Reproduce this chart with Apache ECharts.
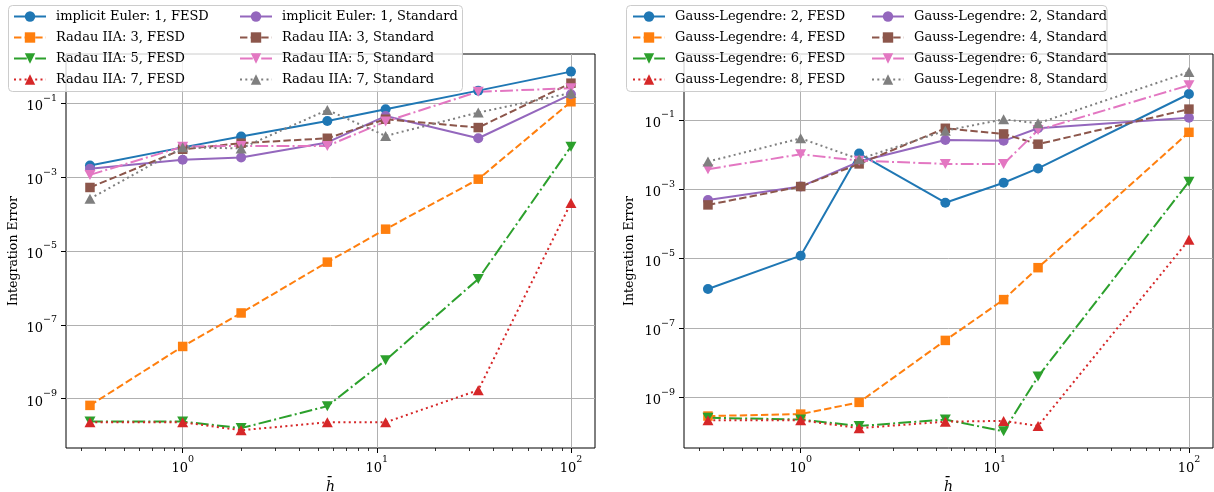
<!DOCTYPE html>
<html><head><meta charset="utf-8">
<script src="https://cdn.jsdelivr.net/npm/echarts@6/dist/echarts.min.js"></script>
<style>html,body{margin:0;padding:0;background:#fff}#c{width:1214px;height:492px}</style>
</head><body><div id="c"></div>
<script>
// ---------- data ----------
const xLeft  = [0.333, 1, 2, 5.56, 11.1, 33.3, 100];
const xRight = [0.333, 1, 2, 5.56, 11.1, 16.7, 100];

const leftNames = [
  'implicit Euler: 1, FESD', 'Radau IIA: 3, FESD', 'Radau IIA: 5, FESD', 'Radau IIA: 7, FESD',
  'implicit Euler: 1, Standard', 'Radau IIA: 3, Standard', 'Radau IIA: 5, Standard', 'Radau IIA: 7, Standard'
];
const rightNames = [
  'Gauss-Legendre: 2, FESD', 'Gauss-Legendre: 4, FESD', 'Gauss-Legendre: 6, FESD', 'Gauss-Legendre: 8, FESD',
  'Gauss-Legendre: 2, Standard', 'Gauss-Legendre: 4, Standard', 'Gauss-Legendre: 6, Standard', 'Gauss-Legendre: 8, Standard'
];

const ie1Fesd = [2.07e-3, 6.4e-3, 1.26e-2, 3.3e-2, 6.9e-2, 0.22, 0.72];
const r3Fesd  = [6.6e-10, 2.6e-8, 2.1e-7, 5.0e-6, 3.9e-5, 8.8e-4, 0.11];
const r5Fesd  = [2.4e-10, 2.4e-10, 1.6e-10, 6.3e-10, 1.1e-8, 1.75e-6, 6.7e-3];
const r7Fesd  = [2.3e-10, 2.3e-10, 1.4e-10, 2.3e-10, 2.3e-10, 1.7e-9, 2.0e-4];
const ie1Std  = [1.68e-3, 2.95e-3, 3.4e-3, 8.7e-3, 4.5e-2, 1.13e-2, 0.175];
const r3Std   = [5.25e-4, 5.7e-3, 8.3e-3, 1.13e-2, 3.7e-2, 2.2e-2, 0.35];
const r5Std   = [1.15e-3, 6.7e-3, 7.0e-3, 7.0e-3, 3.2e-2, 0.206, 0.255];
const r7Std   = [2.6e-4, 6.4e-3, 6.0e-3, 6.6e-2, 1.31e-2, 5.6e-2, 0.19];

const gl2Fesd = [1.33e-6, 1.22e-5, 1.07e-2, 4.1e-4, 1.55e-3, 4.0e-3, 0.56];
const gl4Fesd = [2.9e-10, 3.3e-10, 7.2e-10, 4.4e-8, 6.6e-7, 5.5e-6, 4.4e-2];
const gl6Fesd = [2.6e-10, 2.3e-10, 1.5e-10, 2.3e-10, 1.05e-10, 4.0e-9, 1.66e-3];
const gl8Fesd = [2.2e-10, 2.2e-10, 1.3e-10, 2.0e-10, 2.1e-10, 1.5e-10, 3.5e-5];
const gl2Std  = [4.9e-4, 1.2e-3, 6.3e-3, 2.65e-2, 2.5e-2, 5.75e-2, 0.115];
const gl4Std  = [3.55e-4, 1.2e-3, 5.4e-3, 5.75e-2, 3.95e-2, 2.0e-2, 0.205];
const gl6Std  = [3.8e-3, 1.02e-2, 6.7e-3, 5.4e-3, 5.4e-3, 5.1e-2, 1.0];
const gl8Std  = [6.3e-3, 2.95e-2, 7.4e-3, 4.9e-2, 0.104, 8.0e-2, 2.4];

const xMajorTicks = [1, 10, 100];
const xMinorTicks = [0.3, 0.4, 0.5, 0.6, 0.7, 0.8, 0.9, 2, 3, 4, 5, 6, 7, 8, 9, 20, 30, 40, 50, 60, 70, 80, 90];
const yTicks = [1e-9, 1e-7, 1e-5, 1e-3, 1e-1];

// ---------- styling ----------
const FONT = 'DejaVu Serif';
const C = ['#1f77b4', '#ff7f0e', '#2ca02c', '#d62728', '#9467bd', '#8c564b', '#e377c2', '#7f7f7f'];
const DASH = ['solid', [7.4, 3.2], [12.8, 3.2, 2, 3.2], [2, 3.3]];
const SYM = ['circle', 'rect', 'path://M0,0 L10,0 L5,9 Z', 'triangle'];
const SYMSIZE = [10, 9.5, [11, 10], [11, 10]];

const xMin = 0.2506, xMax = 133.0;
const yRange = [[4.63e-11, 2.16], [3.48e-11, 7.96]];

function sup(v) {
  const e = Math.round(Math.log10(v));
  return '{b|10}{s|' + (e < 0 ? '\u2212' + (-e) : e) + '}';
}
const rich = {
  b: {fontFamily: FONT, fontSize: 13, lineHeight: 20, verticalAlign: 'bottom', color: '#000'},
  s: {fontFamily: FONT, fontSize: 9.5, lineHeight: 11, verticalAlign: 'top', color: '#000'}
};

const grids = [
  {left: 66, right: 619, top: 54, bottom: 44},
  {left: 684, right: 1, top: 54, bottom: 44}
];

const xAxes = [], yAxes = [];
grids.forEach((g, gi) => {
  xAxes.push({
    type: 'log', logBase: 10, gridIndex: gi, min: xMin, max: xMax, position: 'bottom',
    name: 'h\u0304', nameLocation: 'middle', nameGap: 25,
    nameTextStyle: {fontFamily: FONT, fontSize: 14, fontStyle: 'italic', color: '#000'},
    axisLine: {show: false},
    axisTick: {show: true, customValues: xMajorTicks, length: 5, lineStyle: {color: '#000', width: 1}},
    axisLabel: {customValues: xMajorTicks, formatter: sup, rich: rich, margin: 7},
    splitLine: {show: true, lineStyle: {color: '#b0b0b0', width: 1}}
  });
  xAxes.push({
    type: 'log', logBase: 10, gridIndex: gi, min: xMin, max: xMax, position: 'bottom',
    axisLine: {show: false},
    axisTick: {show: true, customValues: xMinorTicks, length: 3, lineStyle: {color: '#000', width: 0.8}},
    axisLabel: {show: false},
    splitLine: {show: false}
  });
  yAxes.push({
    type: 'log', logBase: 10, gridIndex: gi, min: yRange[gi][0], max: yRange[gi][1],
    name: 'Integration Error', nameLocation: 'middle', nameGap: gi === 0 ? 46 : 48,
    nameTextStyle: {fontFamily: FONT, fontSize: 12.5, color: '#000'},
    axisLine: {show: false},
    axisTick: {show: true, customValues: yTicks, length: 5, lineStyle: {color: '#000', width: 1}},
    axisLabel: {customValues: yTicks, formatter: sup, rich: rich, margin: 9},
    splitLine: {show: true, lineStyle: {color: '#b0b0b0', width: 1}}
  });
});

function mk(name, xs, ys, k, gi) {
  const m = k % 4;
  return {
    type: 'line', name: name, xAxisIndex: gi * 2, yAxisIndex: gi,
    data: xs.map((x, i) => [x, ys[i]]),
    symbol: SYM[m], symbolSize: SYMSIZE[m], showSymbol: true,
    lineStyle: {color: C[k], width: 2, type: DASH[m]},
    itemStyle: {color: C[k]},
    emphasis: {disabled: true}
  };
}
const leftData = [ie1Fesd, r3Fesd, r5Fesd, r7Fesd, ie1Std, r3Std, r5Std, r7Std];
const rightData = [gl2Fesd, gl4Fesd, gl6Fesd, gl8Fesd, gl2Std, gl4Std, gl6Std, gl8Std];
const series = [];
leftData.forEach((d, k) => series.push(mk(leftNames[k], xLeft, d, k, 0)));
rightData.forEach((d, k) => series.push(mk(rightNames[k], xRight, d, k, 1)));

function lg(names, left) {
  return {
    data: names, orient: 'vertical', left: left, top: 10, itemWidth: 32, itemHeight: 13, itemGap: 8,
    padding: 0, selectedMode: false, z: 5,
    textStyle: {fontFamily: FONT, fontSize: 13, color: '#000', lineHeight: 13, padding: [0, 0, 0, 5]}
  };
}

const option = {
  animation: false,
  backgroundColor: '#fff',
  grid: grids.map(g => Object.assign({show: true, borderColor: '#000', borderWidth: 1,
    backgroundColor: 'transparent', containLabel: false, outerBoundsMode: 'none'}, g)),
  xAxis: xAxes,
  yAxis: yAxes,
  legend: [
    lg(leftNames.slice(0, 4), 13), lg(leftNames.slice(4), 239),
    lg(rightNames.slice(0, 4), 632), lg(rightNames.slice(4), 871)
  ],
  graphic: [
    {type: 'rect', z: 3, shape: {x: 8.5, y: 5.5, width: 454, height: 86, r: 4},
     style: {fill: 'rgba(255,255,255,0.8)', stroke: '#cccccc', lineWidth: 1}},
    {type: 'rect', z: 3, shape: {x: 626.5, y: 5.5, width: 480.5, height: 86, r: 4},
     style: {fill: 'rgba(255,255,255,0.8)', stroke: '#cccccc', lineWidth: 1}}
  ],
  series: series
};
const chart = echarts.init(document.getElementById('c'), null, {renderer: 'canvas'});
chart.setOption(option);
</script></body></html>
